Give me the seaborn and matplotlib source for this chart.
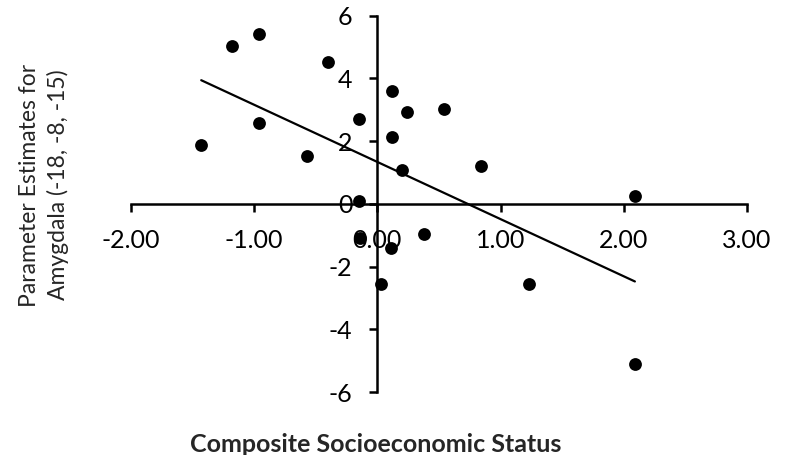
import matplotlib.pyplot as plt
import seaborn as sns
import pandas as pd


### DATA ###

ses = [
    -1.43, -1.18, -0.96, -0.40, -0.96, -0.57, -0.15,
    0.12, 0.24, 0.54, 0.12, 0.20, -0.15,
    0.84, 2.09, -0.14, 0.11, 0.38, 0.03, 1.23, 2.09
]

amygdala = [
    1.89, 5.02, 5.42, 4.52, 2.58, 1.52, 2.71,
    3.61, 2.93, 3.03, 2.12, 1.07, 0.08,
    1.20, 0.24, -1.08, -1.40, -0.95, -2.54, -2.54, -5.12
]

x_ticks = [-2, -1, 0, 1, 2, 3]
y_ticks = [-6, -4, -2, 0, 2, 4, 6]

df = pd.DataFrame({'ses': ses, 'amygdala': amygdala})


### SES VS AMYGDALA ###

sns.set_style('ticks')
plt.rcParams['font.family'] = ['Lato', 'DejaVu Sans']
plt.rcParams['axes.unicode_minus'] = False

fig = plt.figure(figsize=(7.91, 4.55), dpi=100)

ax = fig.add_axes([
    131 / 791,
    1 - 392 / 455,
    (747 - 131) / 791,
    (392 - 15.7) / 455
])

sns.regplot(
    data=df,
    x='ses',
    y='amygdala',
    ci=None,
    color='black',
    scatter_kws={'s': 85, 'alpha': 1, 'linewidths': 0},
    line_kws={'linewidth': 1.6},
    ax=ax
)

ax.set_xlim(-2, 3)
ax.set_ylim(-6, 6)

ax.set_xticks(x_ticks)
ax.set_xticklabels([f'{t:.2f}' for t in x_ticks])
ax.set_yticks(y_ticks)
ax.set_yticklabels([str(t) for t in y_ticks])

# axes cross at the origin
for side in ['left', 'bottom']:
    ax.spines[side].set_position(('data', 0))
    ax.spines[side].set_color('black')
    ax.spines[side].set_linewidth(1.8)

ax.spines['top'].set_visible(False)
ax.spines['right'].set_visible(False)

ax.tick_params(
    axis='both',
    direction='out',
    length=6,
    width=1.8,
    color='black',
    labelsize=18,
    labelcolor='black',
    pad=12
)

ax.set_xlabel('')
ax.set_ylabel('')

fig.text(
    44 / 791,
    1 - 185 / 455,
    'Parameter Estimates for\nAmygdala (-18, -8, -15)',
    rotation=90,
    ha='center',
    va='center',
    multialignment='center',
    linespacing=1.35,
    fontsize=16.5
)

fig.text(
    376 / 791,
    1 - 444 / 455,
    'Composite Socioeconomic Status',
    ha='center',
    va='center',
    fontsize=18,
    fontweight='bold'
)

fig.savefig('out.png', dpi=100)
